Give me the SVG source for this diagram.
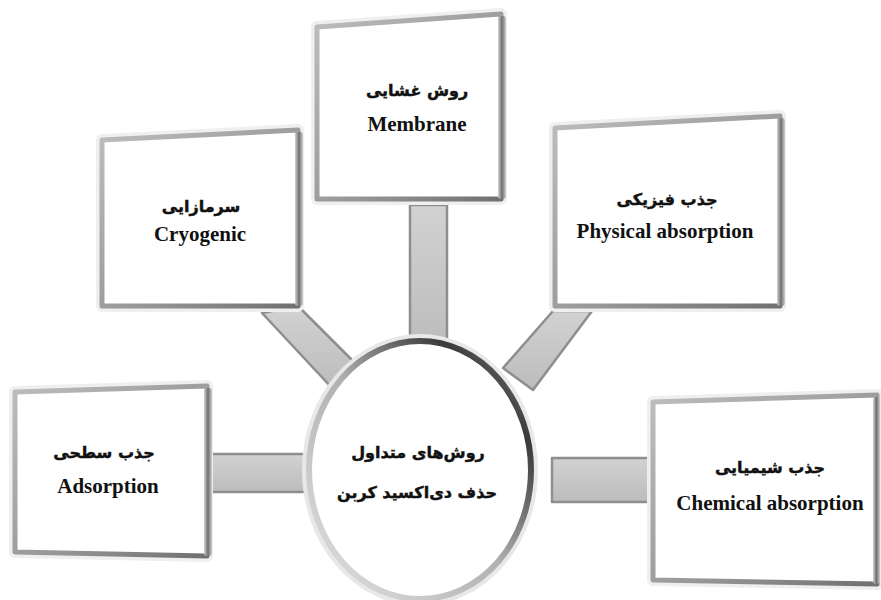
<svg xmlns="http://www.w3.org/2000/svg" width="881" height="600" viewBox="0 0 881 600">
<defs>
<linearGradient id="frame" x1="0" y1="0" x2="1" y2="1">
<stop offset="0" stop-color="#bdbdbd"/>
<stop offset="0.6" stop-color="#979797"/>
<stop offset="1" stop-color="#707070"/>
</linearGradient>
<linearGradient id="side" x1="0" y1="0" x2="1" y2="0">
<stop offset="0" stop-color="#d4d4d4"/>
<stop offset="0.5" stop-color="#6e6e6e"/>
<stop offset="1" stop-color="#cfcfcf"/>
</linearGradient>
<linearGradient id="ring" x1="0" y1="1" x2="1" y2="0">
<stop offset="0" stop-color="#e4e4e4"/>
<stop offset="0.5" stop-color="#b0b0b0"/>
<stop offset="0.8" stop-color="#3a3a3a"/>
<stop offset="1" stop-color="#888"/>
</linearGradient>
<linearGradient id="barH" x1="0" y1="0" x2="0" y2="1">
<stop offset="0" stop-color="#d2d2d2"/>
<stop offset="1" stop-color="#bcbcbc"/>
</linearGradient>
</defs>
<style>
.glow{fill:none;stroke:#efefef;stroke-width:12;stroke-linejoin:round}
.box{fill:#fff;stroke:url(#frame);stroke-width:5;stroke-linejoin:round}
.rside{fill:url(#side)}
.bar{fill:url(#barH);stroke:#8e8e8e;stroke-width:2.5;stroke-linejoin:round}
.fa{font-family:"DejaVu Sans","Noto Sans",sans-serif;font-weight:bold;font-size:16px;fill:#111;stroke:#111;stroke-width:0.45;text-anchor:middle}
.en{font-family:"Liberation Serif","Times New Roman",serif;font-weight:bold;font-size:21px;fill:#111;text-anchor:middle}
</style>
<rect width="881" height="600" fill="#fff"/>
<g id="connectors">
<rect class="bar" x="410" y="205" width="37" height="142"/>
<rect class="bar" x="207" y="454" width="102" height="38"/>
<rect class="bar" x="552" y="458" width="102" height="44"/>
<polygon class="bar" points="262,313 298,306 354,362 332,388"/>
<polygon class="bar" points="553,311 592,311 533,390 503,368"/>
</g>
<g id="membrane">
<path class="glow" d="M317,27 L501,14 L501,199 L317,199 Z"/>
<path class="box" d="M317,27 L501,14 L501,199 L317,199 Z"/>
<rect class="rside" x="498" y="16" width="8" height="183" rx="3"/>
<text class="fa" x="417" y="96">روش غشایی</text>
<text class="en" x="417" y="131">Membrane</text>
</g>
<g id="cryogenic">
<path class="glow" d="M102,140 L298,130 L298,306 L102,306 Z"/>
<path class="box" d="M102,140 L298,130 L298,306 L102,306 Z"/>
<rect class="rside" x="295" y="132" width="8" height="174" rx="3"/>
<text class="fa" x="201" y="212">سرمازایی</text>
<text class="en" x="200" y="241">Cryogenic</text>
</g>
<g id="physical">
<path class="glow" d="M555,128 L780,116 L780,306 L555,306 Z"/>
<path class="box" d="M555,128 L780,116 L780,306 L555,306 Z"/>
<rect class="rside" x="777" y="118" width="8" height="188" rx="3"/>
<text class="fa" x="667" y="205">جذب فیزیکی</text>
<text class="en" x="665" y="238">Physical absorption</text>
</g>
<g id="adsorption">
<path class="glow" d="M15,392 L207,386 L207,556 L15,552 Z"/>
<path class="box" d="M15,392 L207,386 L207,556 L15,552 Z"/>
<rect class="rside" x="204" y="388" width="8" height="168" rx="3"/>
<text class="fa" x="104" y="458">جذب سطحی</text>
<text class="en" x="108" y="493">Adsorption</text>
</g>
<g id="chemical">
<path class="glow" d="M653,402 L877,395 L877,584 L653,580 Z"/>
<path class="box" d="M653,402 L877,395 L877,584 L653,580 Z"/>
<rect class="rside" x="873" y="397" width="7" height="187" rx="3"/>
<text class="fa" x="770" y="473">جذب شیمیایی</text>
<text class="en" x="770" y="510">Chemical absorption</text>
</g>
<g id="center">
<ellipse cx="420" cy="470" rx="114" ry="132" fill="none" stroke="#e8e8e8" stroke-width="8"/>
<ellipse cx="420" cy="470" rx="111" ry="129" fill="#fff" stroke="url(#ring)" stroke-width="6"/>
<text class="fa" x="418" y="458">روش‌های متداول</text>
<text class="fa" x="417" y="498">حذف دی‌اکسید کربن</text>
</g>
</svg>
